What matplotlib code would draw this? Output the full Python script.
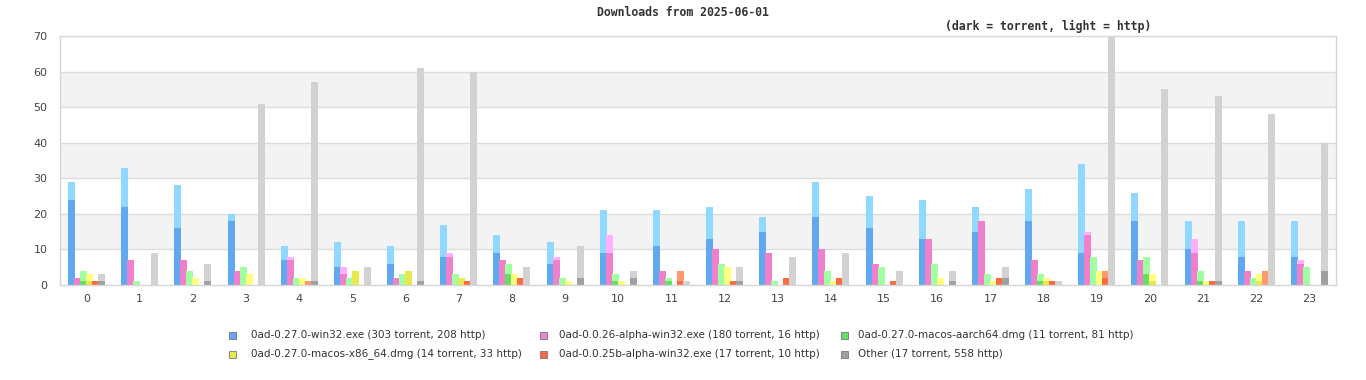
import matplotlib
matplotlib.use("Agg")
import matplotlib.pyplot as plt
from matplotlib.patches import Rectangle
import numpy as np

hours = list(range(24))

series_names = [
    "0ad-0.27.0-win32.exe (303 torrent, 208 http)",
    "0ad-0.0.26-alpha-win32.exe (180 torrent, 16 http)",
    "0ad-0.27.0-macos-aarch64.dmg (11 torrent, 81 http)",
    "0ad-0.27.0-macos-x86_64.dmg (14 torrent, 33 http)",
    "0ad-0.0.25b-alpha-win32.exe (17 torrent, 10 http)",
    "Other (17 torrent, 558 http)",
]

win32_torrent = [24, 22, 16, 18, 7, 5, 6, 8, 9, 6, 9, 11, 13, 15, 19, 16, 13, 15, 18, 9, 18, 10, 8, 8]
win32_http    = [5, 11, 12, 2, 4, 7, 5, 9, 5, 6, 12, 10, 9, 4, 10, 9, 11, 7, 9, 25, 8, 8, 10, 10]

a26_torrent = [2, 7, 7, 4, 7, 3, 2, 8, 7, 7, 9, 4, 10, 9, 10, 6, 13, 18, 7, 14, 7, 9, 4, 6]
a26_http    = [0, 0, 0, 0, 1, 2, 0, 1, 0, 1, 5, 0, 0, 0, 0, 0, 0, 0, 0, 1, 0, 4, 0, 1]

arm_torrent = [1, 0, 0, 0, 0, 0, 0, 0, 3, 0, 1, 1, 0, 0, 0, 0, 0, 0, 1, 0, 3, 1, 0, 0]
arm_http    = [3, 1, 4, 5, 2, 2, 3, 3, 3, 2, 2, 1, 6, 1, 4, 5, 6, 3, 2, 8, 5, 3, 2, 5]

x86_torrent = [1, 0, 0, 0, 0, 4, 4, 2, 0, 0, 0, 0, 0, 0, 0, 0, 0, 0, 1, 0, 1, 0, 1, 0]
x86_http    = [2, 0, 2, 3, 2, 0, 0, 0, 3, 1, 1, 0, 5, 0, 1, 0, 2, 1, 1, 4, 2, 1, 2, 0]

a25_torrent = [1, 0, 0, 0, 0, 0, 0, 1, 2, 0, 0, 1, 1, 2, 2, 1, 0, 2, 1, 2, 0, 1, 0, 0]
a25_http    = [0, 0, 0, 0, 1, 0, 0, 0, 0, 0, 0, 3, 0, 0, 0, 0, 0, 0, 0, 2, 0, 0, 4, 0]

other_torrent = [1, 0, 1, 0, 1, 0, 1, 0, 0, 2, 2, 0, 1, 0, 0, 0, 1, 2, 0, 0, 0, 1, 0, 4]
other_http    = [2, 9, 5, 51, 56, 5, 60, 60, 5, 9, 2, 1, 4, 8, 9, 4, 3, 3, 1, 70, 55, 52, 48, 36]

torrent = [win32_torrent, a26_torrent, arm_torrent, x86_torrent, a25_torrent, other_torrent]
http = [win32_http, a26_http, arm_http, x86_http, a25_http, other_http]

dark_colors = ["#60a8f0", "#f080cc", "#66dd66", "#e8e850", "#ff6a40", "#a0a0a0"]
light_colors = ["#90d8ff", "#ffb0ff", "#a0ffa0", "#ffff80", "#ff9a70", "#d2d2d2"]

fig = plt.figure(figsize=(13.66, 3.8), dpi=100)
ax = fig.add_axes([60/1366, 1-285/380, (1336-60)/1366, (285-36)/380])

# background bands
for lo in (10, 30, 50):
    ax.axhspan(lo, lo + 10, color="#f3f3f3", zorder=0, lw=0)
for y in range(10, 70, 10):
    ax.axhline(y, color="#dcdcdc", lw=1, zorder=0.5)

x = np.arange(len(hours))
step = 0.1128
width = 0.1316
for i in range(6):
    off = (i - 2.5) * step
    t = np.array(torrent[i])
    h = np.array(http[i])
    ax.bar(x + off, t, width=width, color=dark_colors[i], lw=0, zorder=2)
    ax.bar(x + off, h, bottom=t, width=width, color=light_colors[i], lw=0, zorder=2)

ax.set_xlim(-0.5, 23.5)
ax.set_ylim(0, 70)
ax.set_yticks(range(0, 71, 10))
ax.set_xticks(x)
ax.set_xticklabels([str(hh) for hh in hours])
ax.tick_params(axis="both", length=0, labelsize=8, labelcolor="#444444")
ax.tick_params(axis="y", pad=9)
ax.tick_params(axis="x", pad=6.5)
for s in ax.spines.values():
    s.set_color("#d6d6d6")
    s.set_linewidth(1)
ax.set_facecolor("white")

fig.text(683/1366, 1-13/380, "Downloads from 2025-06-01", ha="center", va="center",
         family="DejaVu Sans Mono", weight="bold", fontsize=8.3, color="#333333")
fig.text(1048/1366, 1-26/380, "(dark = torrent, light = http)", ha="center", va="center",
         family="DejaVu Sans Mono", weight="bold", fontsize=8.3, color="#333333")

# legend
marker_x = [232, 543.7, 844]
text_x = [250.5, 559, 858.5]
rows_y = [335, 354]
for i in range(6):
    col = i % 3
    row = i // 3
    px, py = marker_x[col], rows_y[row]
    fig.add_artist(Rectangle(((px - 3.5)/1366, 1-(py + 3.5)/380), 7/1366, 7/380,
                             transform=fig.transFigure, facecolor=dark_colors[i],
                             edgecolor="#777777", lw=0.6))
    fig.text(text_x[col]/1366, 1-py/380, series_names[i], ha="left", va="center",
             fontsize=7.5, color="#333333")

fig.savefig("out.png", dpi=100)
